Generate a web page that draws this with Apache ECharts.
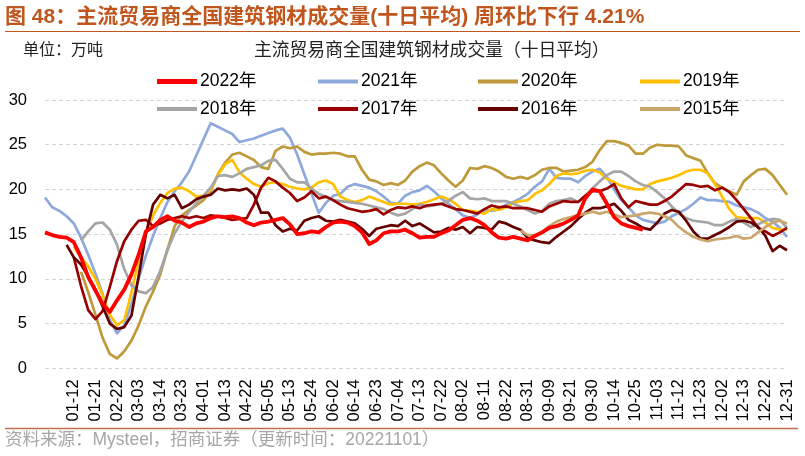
<!DOCTYPE html>
<html><head><meta charset="utf-8">
<script src="https://cdn.jsdelivr.net/npm/echarts/dist/echarts.min.js"></script>
<style>html,body{margin:0;padding:0;background:#fff}#c{width:805px;height:456px}</style>
</head><body><div id="c"></div>
<script>
const categories = ['01-04','01-06','01-08','01-10','01-12','01-15','01-18','01-21','02-15','02-18','02-22','02-25','02-28','03-03','03-07','03-10','03-14','03-17','03-20','03-23','03-26','03-29','04-01','04-06','04-09','04-13','04-16','04-19','04-22','04-26','04-29','05-05','05-08','05-11','05-13','05-17','05-20','05-24','05-27','05-30','06-02','06-06','06-10','06-14','06-17','06-20','06-23','06-27','06-30','07-04','07-07','07-10','07-13','07-16','07-19','07-22','07-26','07-29','08-02','08-05','08-08','08-11','08-15','08-18','08-22','08-25','08-28','08-31','09-03','09-06','09-09','09-13','09-17','09-21','09-24','09-27','09-30','10-09','10-11','10-14','10-18','10-21','10-25','10-28','10-31','11-03','11-06','11-09','11-12','11-16','11-19','11-23','11-26','11-29','12-02','12-06','12-09','12-13','12-16','12-19','12-22','12-25','12-28','12-31'];

const tickLabels = ['01-12','01-21','02-22','03-03','03-14','03-23','04-01','04-13','04-22','05-05','05-13','05-24','06-02','06-14','06-23','07-04','07-13','07-22','08-02','08-11','08-22','08-31','09-09','09-21','09-30','10-14','10-25','11-03','11-12','11-23','12-02','12-13','12-22','12-31'];

const names = ['2022年','2021年','2020年','2019年','2018年','2017年','2016年','2015年'];

const y2022 = [15.2,14.9,14.7,14.6,14.1,12.4,10.2,8.7,7.2,6.3,
 7.6,8.8,10.5,12.7,15.3,15.8,16.6,17.0,16.5,16.3,
 15.8,16.2,16.4,16.8,17.0,16.9,17.0,16.8,16.3,16.0,
 16.3,16.4,16.6,16.8,16.1,15.0,15.1,15.3,15.2,15.8,
 16.3,16.4,16.3,15.9,15.2,13.9,14.3,15.1,15.3,15.3,
 15.5,15.1,14.6,14.7,14.7,15.1,15.4,16.0,16.6,16.8,
 16.5,16.0,15.2,14.6,14.5,14.7,14.5,14.3,14.8,15.2,
 15.7,15.9,16.2,16.6,17.1,19.0,20.0,19.8,18.4,16.9,
 16.2,15.9,15.7,15.5,
 null,null,null,null,null,null,null,null,null,null,
 null,null,null,null,null,null,null,null,null,null];

const y2021 = [19.1,18.0,17.6,17.0,16.2,14.6,12.7,10.6,8.3,5.4,
 3.9,4.8,7.2,10.0,12.6,14.8,16.8,18.6,19.8,20.8,
 22.0,23.8,25.6,27.4,27.0,26.6,26.2,25.3,25.5,25.7,
 26.0,26.3,26.6,26.8,25.8,23.9,21.7,19.5,17.4,18.5,
 19.3,19.5,20.3,20.6,20.4,20.2,19.8,19.2,18.5,18.4,
 19.3,19.7,19.9,20.4,19.8,19.0,18.4,17.8,17.1,16.8,
 17.2,17.7,17.6,17.8,18.3,18.6,19.0,19.5,20.3,20.9,
 22.3,21.3,21.2,21.2,20.8,21.5,22.0,22.3,21.4,20.0,
 18.8,18.0,17.1,16.6,16.4,16.2,16.4,17.0,17.4,17.8,
 18.4,19.1,18.8,18.8,18.7,18.6,18.2,18.0,17.8,17.4,
 16.8,16.4,15.7,14.7];

const y2020 = [null,null,null,null,null,10.8,8.5,6.0,3.4,1.6,
 1.1,1.9,3.1,4.8,6.9,8.6,10.5,13.3,15.9,17.1,
 17.7,18.2,18.8,19.8,21.7,23.0,23.9,24.1,23.7,23.3,
 22.5,22.3,24.3,24.8,24.6,24.8,24.2,23.9,24.0,24.0,
 24.1,24.0,23.7,23.7,22.2,21.1,20.9,20.5,20.7,20.5,
 21.0,22.0,22.6,23.0,22.7,21.8,21.0,20.3,21.0,22.4,
 22.3,22.6,22.4,22.0,21.4,21.2,21.4,21.2,21.6,22.2,
 22.4,22.4,22.0,22.1,22.2,22.5,23.1,24.4,25.4,25.4,
 25.2,24.9,24.0,24.0,24.7,25.0,24.9,24.9,24.8,23.8,
 23.5,23.2,21.8,20.7,20.2,19.8,19.4,20.9,21.6,22.2,
 22.3,21.6,20.5,19.4];

const y2019 = [null,null,null,null,13.6,12.4,11.4,10.0,8.2,6.0,
 4.8,5.4,8.5,12.0,15.0,17.1,18.5,19.6,20.1,20.2,
 19.8,19.2,19.3,20.0,21.6,22.8,23.3,21.9,21.2,20.6,
 20.3,20.7,20.8,20.6,20.3,20.1,20.0,20.2,20.8,21.0,
 20.6,19.2,18.8,18.6,18.8,19.2,18.9,18.6,18.3,18.4,
 18.4,18.3,18.4,18.6,18.9,19.2,18.9,18.4,17.7,17.6,
 17.5,17.3,17.8,17.7,18.0,18.5,18.7,18.8,19.5,19.9,
 20.6,21.5,21.8,21.7,21.8,22.1,22.2,21.9,21.2,20.8,
 20.4,20.2,20.0,20.0,20.6,20.9,21.1,21.3,21.6,22.0,
 22.2,22.2,21.8,20.6,19.2,17.8,16.9,16.8,16.8,16.8,
 16.3,15.7,15.5,15.5];

const y2018 = [null,null,null,null,null,14.3,15.3,16.2,16.3,15.5,
 13.8,11.1,9.3,8.6,8.4,9.1,10.9,13.2,15.1,16.4,
 17.5,18.5,19.3,20.2,21.5,21.6,21.4,21.8,22.3,22.5,
 22.7,23.2,23.3,22.3,21.2,20.8,20.8,20.1,19.5,19.2,
 18.8,18.7,18.6,18.5,18.4,18.2,18.0,17.8,17.4,17.1,
 17.3,17.8,18.3,18.1,18.2,18.4,18.7,19.3,19.7,19.0,
 18.9,19.0,18.7,18.7,18.7,18.4,18.1,17.7,17.3,17.6,
 18.4,18.7,18.8,19.0,18.6,19.3,20.1,20.9,21.6,22.0,
 22.0,21.5,20.9,20.5,20.3,19.7,19.0,18.1,17.3,16.8,
 16.5,16.4,16.3,16.0,16.0,16.4,16.7,16.3,15.8,16.1,
 16.5,16.7,16.6,15.7];

const y2017 = [null,null,null,null,12.4,9.2,6.5,5.5,6.4,9.1,
 12.0,14.2,15.5,16.5,16.6,15.9,16.2,16.6,16.8,17.0,
 16.8,17.0,16.8,17.1,17.0,16.8,16.6,16.7,16.8,18.3,
 20.2,21.3,20.9,20.2,19.6,18.7,19.1,19.8,19.0,19.2,
 18.8,18.3,17.9,17.7,17.5,17.6,17.8,17.2,17.7,18.0,
 17.9,18.1,17.9,18.2,18.3,18.4,18.1,17.8,17.7,17.5,
 17.3,17.8,18.2,18.0,18.1,17.9,17.9,17.9,17.7,17.5,
 18.1,18.4,18.7,18.6,18.6,19.3,19.8,19.8,20.1,20.6,
 19.0,18.0,18.7,18.5,18.3,18.3,18.7,19.2,19.9,20.6,
 20.5,20.3,20.4,19.9,20.2,19.7,18.8,17.8,16.8,15.7,
 15.3,14.8,15.2,15.7];

const y2016 = [null,null,null,13.8,12.4,11.6,10.3,8.8,6.9,5.0,
 4.4,4.6,5.9,10.3,15.0,18.3,19.4,19.0,19.4,17.9,
 18.3,18.9,19.2,19.4,20.1,19.9,20.0,19.9,20.1,19.4,
 17.4,17.4,16.0,15.3,15.6,15.4,16.5,16.8,17.0,16.5,
 16.4,16.6,16.4,16.2,15.6,14.8,15.6,15.8,16.0,15.9,
 16.5,15.9,16.2,15.7,15.2,15.3,15.7,15.5,15.8,15.1,
 15.8,15.7,15.5,16.4,16.2,15.8,15.5,14.6,14.3,14.1,
 14.0,14.7,15.3,15.9,16.7,17.4,17.9,17.9,18.1,18.4,
 17.6,16.6,16.2,15.7,15.5,16.3,17.3,17.7,17.5,16.5,
 15.3,14.5,14.5,14.9,15.3,15.8,16.4,16.5,16.3,15.8,
 14.8,13.1,13.7,13.2];

const y2015 = [null,null,null,null,null,null,null,null,null,null,
 null,null,null,null,null,null,null,null,null,null,
 null,null,null,null,null,null,null,null,null,null,
 null,null,null,null,null,null,null,null,null,null,
 null,null,null,null,null,null,null,null,null,null,
 null,null,null,null,null,null,null,null,null,null,
 null,null,null,null,null,null,15.4,14.9,14.9,15.2,
 15.9,16.4,16.7,16.9,17.1,17.3,17.5,17.3,17.5,17.2,
 16.9,17.0,17.1,17.3,17.4,17.3,17.0,16.6,15.8,15.2,
 14.7,14.4,14.2,14.4,14.5,14.6,14.8,14.5,14.6,15.2,
 15.8,16.3,16.5,16.2];

const seriesData = [y2022, y2021, y2020, y2019, y2018, y2017, y2016, y2015];
const colors = ['#FF0000','#8EA9DB','#BF9A3A','#FFC000','#A5A5A5','#9B0000','#640000','#C9A66B'];
const widths = [3.8,2.7,2.7,2.7,2.7,2.7,2.7,2.7];
const legendSpots = [[157,81.5],[318,81.5],[478,81.5],[640,81.5],[157,109],[318,109],[478,109],[640,109]];

const latin = 'Arial, "Liberation Sans", "Noto Sans CJK SC", sans-serif';
const cjk = '"Noto Sans CJK SC", sans-serif';

const chart = echarts.init(document.getElementById('c'), null, {renderer: 'canvas'});
chart.setOption({
  animation: false,
  backgroundColor: '#fff',
  grid: {left: 45, right: 18, top: 100, bottom: 87.7, containLabel: false},
  legend: names.map((n, k) => ({
    data: [n], left: legendSpots[k][0], top: legendSpots[k][1] - 10, padding: 0,
    icon: 'rect', itemWidth: 40, itemHeight: k === 0 ? 5 : 4,
    textStyle: {fontSize: 17.5, lineHeight: 20, color: '#000', fontFamily: latin, padding: [0,0,0,-2]}
  })),
  xAxis: {
    type: 'category', data: categories, boundaryGap: false,
    axisLine: {show: false}, axisTick: {show: false}, splitLine: {show: false},
    axisLabel: {
      interval: (idx, val) => tickLabels.includes(val),
      rotate: 90, margin: 11, fontSize: 16.5, color: '#000', fontFamily: latin
    }
  },
  yAxis: {
    type: 'value', min: 0, max: 30, interval: 5,
    axisLine: {show: false}, axisTick: {show: false},
    axisLabel: {fontSize: 16.5, color: '#000', margin: 18, fontFamily: latin},
    splitLine: {lineStyle: {color: '#D4D4D4', type: [4, 3], width: 1}}
  },
  series: names.map((n, k) => ({
    name: n, type: 'line', data: seriesData[k], color: colors[k],
    showSymbol: false, symbol: 'none', smooth: false, z: k === 0 ? 5 : 2,
    lineStyle: {width: widths[k], color: colors[k], join: 'round'}
  })),
  graphic: [
    {type: 'text', left: 5, top: 7, style: {text: '图 48：主流贸易商全国建筑钢材成交量(十日平均) 周环比下行 4.21%', fill: '#C0561D', font: 'bold 21px ' + latin}},
    {type: 'line', shape: {x1: 5, y1: 31.5, x2: 800, y2: 31.5}, style: {stroke: '#C0561D', lineWidth: 1}},
    {type: 'text', left: 23, top: 41, style: {text: '单位：万吨', fill: '#222', font: '16px ' + cjk}},
    {type: 'text', left: 254, top: 40, style: {text: '主流贸易商全国建筑钢材成交量（十日平均）', fill: '#222', font: '17.8px ' + cjk}},
    {type: 'line', shape: {x1: 5, y1: 428.5, x2: 798, y2: 428.5}, style: {stroke: '#C0704F', lineWidth: 1.5}},
    {type: 'text', left: 5, top: 431, style: {text: '资料来源：Mysteel，招商证券（更新时间：20221101）', fill: '#A6A6A6', font: '17.5px ' + latin}}
  ]
});
</script>
</body></html>
